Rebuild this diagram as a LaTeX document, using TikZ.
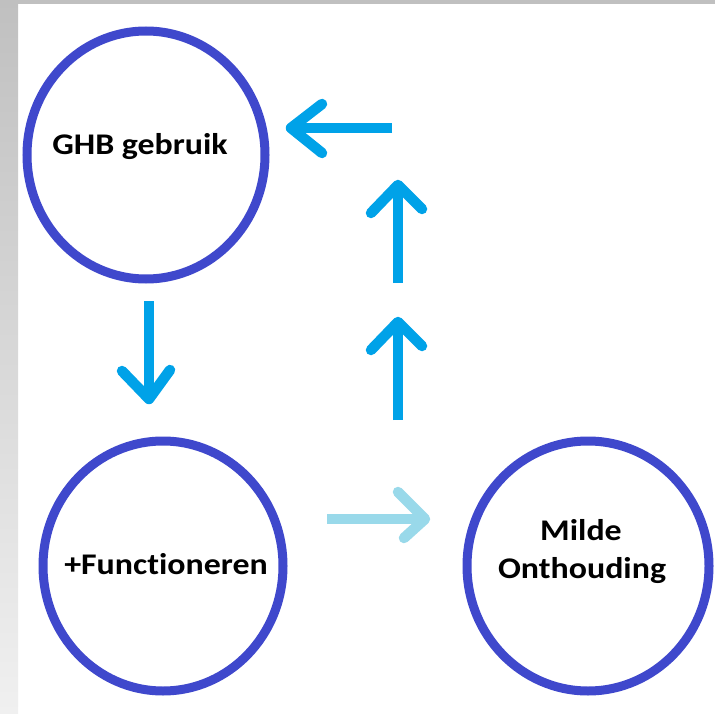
\documentclass[tikz,border=0pt]{standalone}
\usepackage{fontspec}
\setmainfont{Carlito}[Ligatures=NoCommon]
\usetikzlibrary{shapes.geometric}
\definecolor{ringblue}{HTML}{3F48CC}
\definecolor{arrowblue}{HTML}{00A2E8}
\definecolor{arrowlight}{HTML}{99D9EA}
\definecolor{frameA}{HTML}{C0C0C0}
\definecolor{frameB}{HTML}{F0F0F0}
\begin{document}
\begin{tikzpicture}[x=1pt,y=-1pt,
  ring/.style={draw=ringblue, line width=9pt, ellipse, inner sep=0pt},
  lbl/.style={anchor=base, inner sep=0pt, font=\fontsize{30}{36}\selectfont\bfseries},
  shaft/.style={line width=10.5pt, line cap=butt},
  head/.style={line width=10.5pt, line cap=round, line join=round},
]
\useasboundingbox (0,0) rectangle (715,714);
\fill[white] (0,0) rectangle (715,714);
\shade[top color=frameA,bottom color=frameB] (0,0) rectangle (18,714);
\fill[frameA] (0,0) rectangle (715,4);

\node[ring, minimum width=238pt, minimum height=248pt] (ghb) at (146,155) {};
\node[ring, minimum width=240pt, minimum height=250pt] (func) at (163,566) {};
\node[ring, minimum width=242pt, minimum height=250pt] (mild) at (588,566) {};

\node[lbl] (tghb) at (140,155) {\scalebox{1.13}[1]{GHB gebruik}};
\node[lbl] (tfunc) at (166,574) {\scalebox{1.13}[1]{+Functioneren}};
\node[lbl] (tmilde) at (581,540) {\scalebox{1.13}[1]{Milde}};
\node[lbl] (tonth) at (582,578) {\scalebox{1.13}[1]{Onthouding}};

% arrow back to GHB
\coordinate (aS) at (392,128); \coordinate (aT) at (291,128);
\coordinate (aL) at (322,104); \coordinate (aR) at (322,153);
\draw[shaft, arrowblue] (aS) -- (aT);
\draw[head, arrowblue] (aL) -- (aT) -- (aR);

% upper up arrow
\coordinate (bS) at (398,283); \coordinate (bT) at (398,185);
\coordinate (bL) at (371,213); \coordinate (bR) at (422,209);
\draw[shaft, arrowblue] (bS) -- (bT);
\draw[head, arrowblue] (bL) -- (bT) -- (bR);

% lower up arrow
\coordinate (cS) at (398,420); \coordinate (cT) at (398,322);
\coordinate (cL) at (371,350); \coordinate (cR) at (422,346);
\draw[shaft, arrowblue] (cS) -- (cT);
\draw[head, arrowblue] (cL) -- (cT) -- (cR);

% down arrow
\coordinate (dS) at (149,301); \coordinate (dT) at (149,399);
\coordinate (dL) at (122,371); \coordinate (dR) at (170,370);
\draw[shaft, arrowblue] (dS) -- (dT);
\draw[head, arrowblue] (dL) -- (dT) -- (dR);

% light right arrow
\coordinate (eS) at (327,519); \coordinate (eT) at (425,519);
\coordinate (eL) at (398,492); \coordinate (eR) at (404,538);
\draw[shaft, arrowlight] (eS) -- (eT);
\draw[head, arrowlight] (eL) -- (eT) -- (eR);
\end{tikzpicture}
\end{document}
